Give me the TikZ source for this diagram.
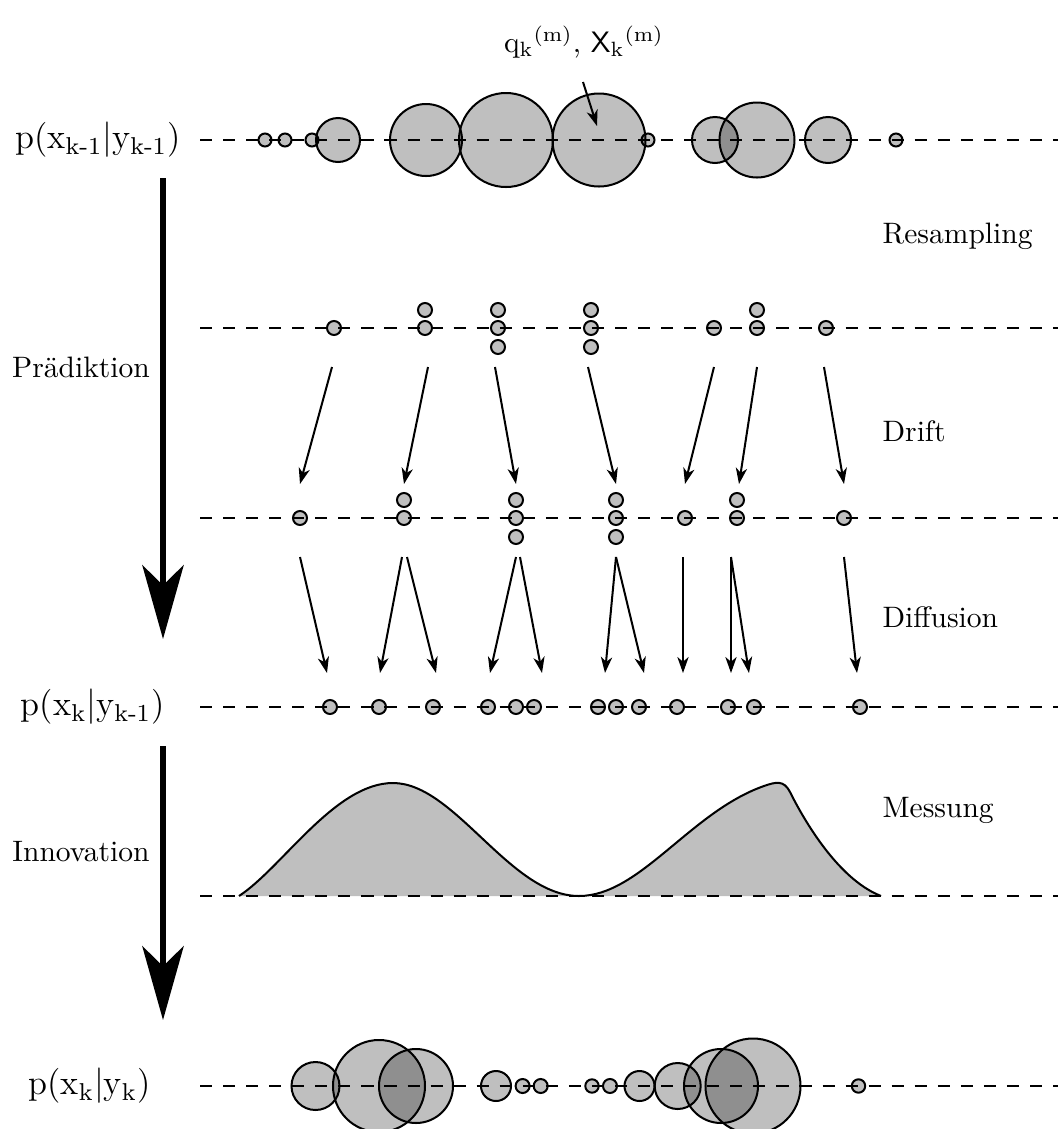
\documentclass[tikz,border=0pt]{standalone}
\usetikzlibrary{arrows.meta}
\begin{document}
\begin{tikzpicture}[x=0.3383pt,y=-0.3383pt,
  ball/.style={circle, draw, line width=0.68pt, fill=black, fill opacity=0.25,
    inner sep=0pt, minimum size=2*#1*0.3383pt},
  ball/.default=7,
  axisline/.style={line width=0.68pt, dash pattern=on 4.1pt off 3.7pt},
  move/.style={line width=0.68pt, -{Stealth[length=5.4pt,width=3.8pt,inset=1.6pt]}},
  phase/.style={line width=1.7pt, -{Stealth[length=25pt,width=14pt,inset=6.8pt]}},
  lbl/.style={inner sep=0pt},
  dens/.style={inner sep=0pt, anchor=east, font=\fontsize{11.8pt}{14pt}\selectfont},
]
\useasboundingbox (0,0) rectangle (1058,1129);

% measurement likelihood
\def\likelihood{(239,896) .. controls (282,868) and (335,783) .. (393,783)
  .. controls (455,783) and (510,896) .. (579,896)
  .. controls (640,896) and (690,812) .. (764,786)
  .. controls (776,781.8) and (784,780) .. (790,792)
  .. controls (800,812) and (835,878) .. (881,896)}
\fill[black!25] \likelihood -- cycle;

% state axes
\foreach \y/\n in {140/ax1,328/ax2,518/ax3,707/ax4,896/ax5,1086/ax6}
  \draw[axisline] (200,\y) coordinate (\n s) -- (1058,\y) coordinate (\n e);

\draw[line width=0.68pt] \likelihood;

% weighted particles at k-1
\foreach \x/\r [count=\i] in {265/6.5,285/6.5,312/6.5,338/22,426/36,506/47,599/46.5,
    648/6.5,715/23,757/37.5,828/23,896/6.5}
  \node[ball=\r] (a\i) at (\x,140) {};

% resampled particles
\foreach \x/\y [count=\i] in {334/328,425/310,425/328,498/310,498/328,498/347,
    591/310,591/328,591/347,714/328,757/310,757/328,826/328}
  \node[ball] (b\i) at (\x,\y) {};

% particles after drift
\foreach \x/\y [count=\i] in {300/518,404/500,404/518,516/500,516/518,516/537,
    616/500,616/518,616/537,685/518,737/500,737/518,844/518}
  \node[ball] (c\i) at (\x,\y) {};

% predicted particles
\foreach \x [count=\i] in {330,379,433,488,516,534,598,616,639,677,728,754,860}
  \node[ball] (d\i) at (\x,707) {};

% posterior particles
\foreach \x/\r [count=\i] in {315.5/24,379/46,416/37,496/15,522.6/7,540.7/7,592/6.7,
    610/7,639.5/15,677.7/23,721/37,753/47.5,858.5/6.7}
  \node[ball=\r] (e\i) at (\x,1086) {};

% drift
\foreach \s/\t [count=\i] in {332/300,428/404,495/516,588/616,714/685,757/739,824/844} {
  \coordinate (ds\i) at (\s,367);
  \coordinate (dt\i) at (\t,484);
  \draw[move] (ds\i) -- (dt\i);
}

% diffusion
\foreach \s/\t [count=\i] in {300/327,402/380,407/436,516/490,520/542,616/605,616/644,
    683/683,731/731,731/749,844/857} {
  \coordinate (fs\i) at (\s,557);
  \coordinate (ft\i) at (\t,673);
  \draw[move] (fs\i) -- (ft\i);
}

% phase arrows
\coordinate (p1s) at (163,178);
\coordinate (p1t) at (163,639);
\draw[phase] (p1s) -- (p1t);
\coordinate (p2s) at (163,746);
\coordinate (p2t) at (163,1020);
\draw[phase] (p2s) -- (p2t);

% particle annotation
\node[lbl, anchor=base] (qlab) at (584,52)
  {q\textsubscript{k}\textsuperscript{(m)}, {\sffamily X}\textsubscript{k}\textsuperscript{(m)}};
\coordinate (qs) at (583,82);
\coordinate (qt) at (597,126);
\draw[move] (qs) -- (qt);

% densities
\node[dens] (l1) at (181,140) {p(x\textsubscript{k-1}$|$y\textsubscript{k-1})};
\node[dens] (l4) at (165,707) {p(x\textsubscript{k}$|$y\textsubscript{k-1})};
\node[dens] (l6) at (151,1086) {p(x\textsubscript{k}$|$y\textsubscript{k})};

% phases and steps
\node[lbl] (pred) at (81,367) {Prädiktion};
\node[lbl] (innov) at (81,852) {Innovation};
\node[lbl, anchor=base west] (res) at (882,243) {Resampling};
\node[lbl, anchor=base west] (drift) at (882,441) {Drift};
\node[lbl, anchor=base west] (diff) at (882,627) {Diffusion};
\node[lbl, anchor=base west] (mess) at (882,817) {Messung};
\end{tikzpicture}
\end{document}
